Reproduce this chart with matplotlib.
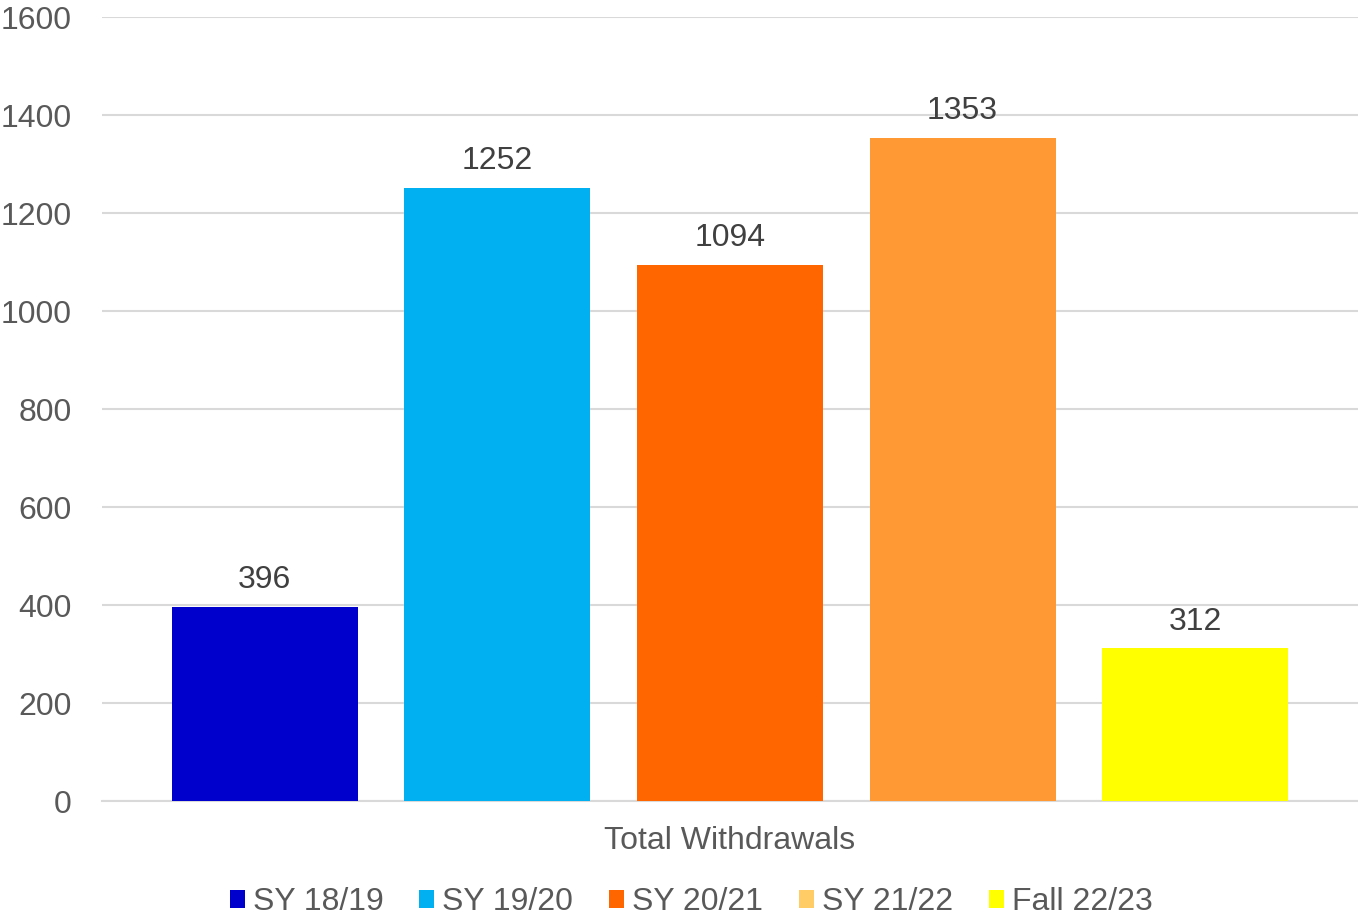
import matplotlib
matplotlib.use("Agg")
import matplotlib.pyplot as plt
from matplotlib.patches import Patch

categories = ["SY 18/19", "SY 19/20", "SY 20/21", "SY 21/22", "Fall 22/23"]
values = [396, 1252, 1094, 1353, 312]
group_label = "Total Withdrawals"
yticks = [0, 200, 400, 600, 800, 1000, 1200, 1400, 1600]

bar_colors = ["#0000CC", "#00B0F0", "#FF6600", "#FF9933", "#FFFF00"]
legend_colors = ["#0000CC", "#00B0F0", "#FF6600", "#FFCC66", "#FFFF00"]

plt.rcParams['font.family'] = ['Liberation Sans', 'DejaVu Sans']
FS = 23

fig = plt.figure(figsize=(13.58, 9.16), dpi=100)
ax = fig.add_axes([0.0751, 0.1255, 0.9249, 0.8559])

x = list(range(len(values)))
bars = ax.bar(x, values, width=0.8, color=bar_colors, zorder=3)
for xi, v in zip(x, values):
    ax.text(xi, v + 38, str(v), ha='center', va='baseline', fontsize=FS, color='#404040')

ax.set_xlim(-0.7, 4.7)
ax.set_ylim(0, 1600)
ax.set_yticks(yticks)
ax.set_yticklabels([str(t) for t in yticks], fontsize=FS, color='#595959')
ax.tick_params(axis='y', length=0, pad=22)
ax.set_xticks([2])
ax.set_xticklabels([group_label], fontsize=FS, color='#595959')
ax.tick_params(axis='x', length=0, pad=18)
ax.grid(axis='y', color='#D9D9D9', linewidth=1.5, zorder=0)
for s in ['top', 'right', 'left']:
    ax.spines[s].set_visible(False)
ax.spines['bottom'].set_color('#D9D9D9')
ax.spines['bottom'].set_linewidth(1.5)

handles = [Patch(facecolor=c, edgecolor='none') for c in legend_colors]
leg = fig.legend(handles, categories, loc='center', bbox_to_anchor=(0.509, 0.015),
                 ncol=5, frameon=False, fontsize=FS, handlelength=0.47, handleheight=0.47,
                 handletextpad=0.25, columnspacing=1.12, borderpad=0, borderaxespad=0)
for t in leg.get_texts():
    t.set_color('#595959')

fig.savefig("out.png", dpi=100)
